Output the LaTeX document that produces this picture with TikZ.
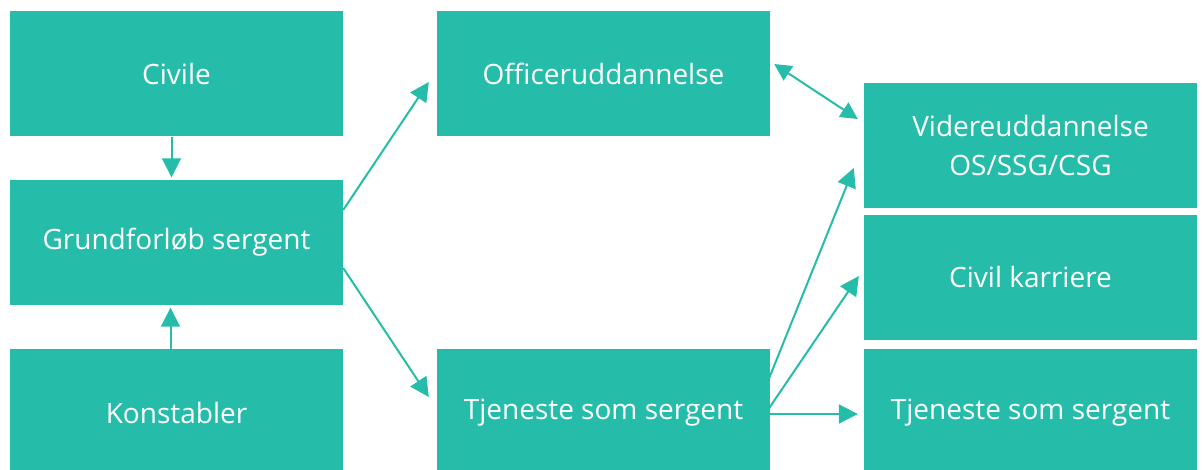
\documentclass[tikz,border=0pt]{standalone}
\usepackage{fontspec}
\setmainfont{Open Sans}
\usetikzlibrary{arrows.meta}
\definecolor{teal}{HTML}{26BCAA}
\tikzset{
  box/.style={fill=teal, draw=none, text=white, minimum width=333pt, minimum height=125pt,
    inner sep=0pt, align=center, font=\fontsize{28}{39}\selectfont},
  lowbox/.style={box, minimum height=127pt},
  link/.style={draw=teal, line width=2pt, -{Triangle[length=19pt,width=19pt]}},
  both/.style={draw=teal, line width=2pt, {Triangle[length=17pt,width=17pt]}-{Triangle[length=17pt,width=17pt]}}
}
\begin{document}
\begin{tikzpicture}[x=1pt,y=-1pt]
\useasboundingbox (0,0) rectangle (1202,469);
% left column
\node[box] (civ) at (176.5,73.5) {Civile};
\node[box] (grund) at (176.5,242) {Grundforløb sergent};
\node[lowbox] (konst) at (176.5,412.5) {Konstabler};
% middle column
\node[box] (offi) at (603.5,73.5) {Officeruddannelse};
\node[lowbox] (tjen) at (603.5,412.5) {Tjeneste som sergent};
% right column
\node[box] (vid) at (1030.5,145) {Videreuddannelse\\OS/SSG/CSG};
\node[box] (kar) at (1030.5,277) {Civil karriere};
\node[lowbox] (tjen2) at (1030.5,412.5) {Tjeneste som sergent};
% connectors (shifts are on the page: positive yshift points up)
\draw[link] ([xshift=-5pt,yshift=-1pt]civ.south) -- ([xshift=-5pt,yshift=2pt]grund.north);
\draw[link] ([xshift=-6pt]konst.north) -- ([xshift=-6pt,yshift=-3pt]grund.south);
\draw[link] ([yshift=32pt]grund.east) -- ([xshift=-8pt,yshift=-8.5pt]offi.west);
\draw[link] ([yshift=-26pt]grund.east) -- ([xshift=-8pt,yshift=15.5pt]tjen.west);
\draw[both] ([xshift=4pt,yshift=9.5pt]offi.east) -- ([xshift=-6pt,yshift=26pt]vid.west);
\draw[link] ([xshift=-1pt,yshift=34.5pt]tjen.east) -- ([xshift=-10pt,yshift=-23pt]vid.west);
\draw[link] ([xshift=-1pt,yshift=4.5pt]tjen.east) -- ([xshift=-5pt,yshift=1pt]kar.west);
\draw[link] ([yshift=-1.5pt]tjen.east) -- ([xshift=-6pt,yshift=-1.5pt]tjen2.west);
\end{tikzpicture}
\end{document}
